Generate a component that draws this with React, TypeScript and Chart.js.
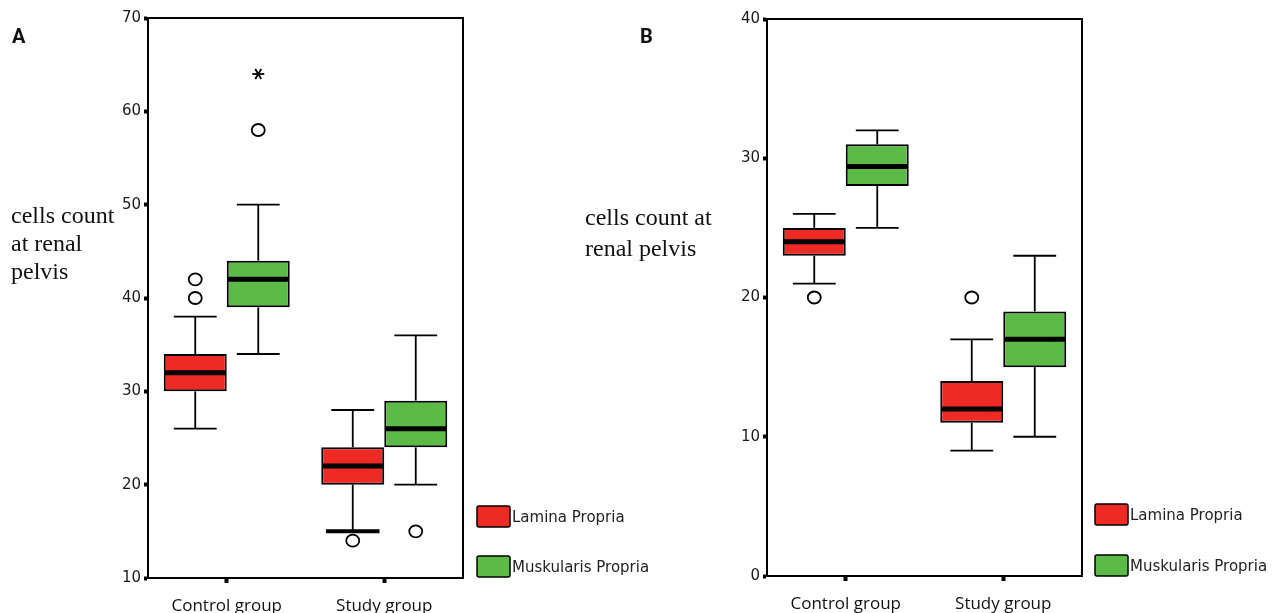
import React, { useEffect, useRef } from "react";
import { Chart, registerables } from "chart.js";
Chart.register(...registerables);

// ---------- data ----------
const groups = ["Control group", "Study group"];
const seriesNames = ["Lamina Propria", "Muskularis Propria"];
const yTitleA = ["cells count", "at renal", "pelvis"];
const yTitleB = ["cells count at", "renal pelvis"];
const yTicksA = [10, 20, 30, 40, 50, 60, 70];
const yTicksB = [0, 10, 20, 30, 40];

// Panel A – Lamina Propria
const laminaA_low = [26, 15];
const laminaA_q1 = [30, 20];
const laminaA_med = [32, 22];
const laminaA_q3 = [34, 24];
const laminaA_high = [38, 28];
const laminaA_outliers = [[40, 42], [14]];
const laminaA_extremes: number[][] = [[], []];
// Panel A – Muskularis Propria
const muskA_low = [34, 20];
const muskA_q1 = [39, 24];
const muskA_med = [42, 26];
const muskA_q3 = [44, 29];
const muskA_high = [50, 36];
const muskA_outliers = [[58], [15]];
const muskA_extremes = [[64], []];

// Panel B – Lamina Propria
const laminaB_low = [21, 9];
const laminaB_q1 = [23, 11];
const laminaB_med = [24, 12];
const laminaB_q3 = [25, 14];
const laminaB_high = [26, 17];
const laminaB_outliers = [[20], [20]];
const laminaB_extremes: number[][] = [[], []];
// Panel B – Muskularis Propria
const muskB_low = [25, 10];
const muskB_q1 = [28, 15];
const muskB_med = [29.4, 17];
const muskB_q3 = [31, 19];
const muskB_high = [32, 23];
const muskB_outliers: number[][] = [[], []];
const muskB_extremes: number[][] = [[], []];

// ---------- styles ----------
const RED = "#ee2a25";
const GREEN = "#5cba47";
const W = 1284;
const H = 613;

const line = (ctx: CanvasRenderingContext2D, x1: number, y1: number, x2: number, y2: number) => {
  ctx.beginPath();
  ctx.moveTo(x1, y1);
  ctx.lineTo(x2, y2);
  ctx.stroke();
};

const boxPlotPlugin = {
  id: "boxplot",
  afterDatasetsDraw(chart: any, _args: any, opts: any) {
    const ctx: CanvasRenderingContext2D = chart.ctx;
    const ys = chart.scales.y;
    chart.data.datasets.forEach((ds: any, di: number) => {
      const meta = chart.getDatasetMeta(di);
      const st = ds.stats;
      meta.data.forEach((el: any, i: number) => {
        const { x, width } = el.getProps(["x", "width"], true);
        const half = width / 2;
        const cap = width * 0.34;
        const yq1 = ys.getPixelForValue(st.q1[i]);
        const yq3 = ys.getPixelForValue(st.q3[i]);
        const ymed = ys.getPixelForValue(st.med[i]);
        const ylo = ys.getPixelForValue(st.low[i]);
        const yhi = ys.getPixelForValue(st.high[i]);
        ctx.save();
        ctx.strokeStyle = "#000";
        ctx.lineWidth = 1.8;
        line(ctx, x, yq3, x, yhi);
        line(ctx, x - cap, yhi, x + cap, yhi);
        line(ctx, x, yq1, x, ylo);
        const bold = opts.boldLowCap && opts.boldLowCap[di] && opts.boldLowCap[di][i];
        if (bold) {
          ctx.lineWidth = 4;
          line(ctx, x - cap * 1.25, ylo, x + cap * 1.25, ylo);
          ctx.lineWidth = 1.8;
        } else {
          line(ctx, x - cap, ylo, x + cap, ylo);
        }
        ctx.lineWidth = 5;
        line(ctx, x - half + 1, ymed, x + half - 1, ymed);
        // outliers
        ctx.lineWidth = 1.8;
        (st.outliers[i] || []).forEach((v: number) => {
          const yy = ys.getPixelForValue(v);
          ctx.beginPath();
          ctx.ellipse(x, yy, 6.5, 6, 0, 0, Math.PI * 2);
          ctx.fillStyle = "#fff";
          ctx.fill();
          ctx.stroke();
        });
        (st.extremes[i] || []).forEach((v: number) => {
          const yy = ys.getPixelForValue(v);
          line(ctx, x - 6, yy, x + 6, yy);
          line(ctx, x - 3, yy - 5, x + 3, yy + 5);
          line(ctx, x + 3, yy - 5, x - 3, yy + 5);
        });
        ctx.restore();
      });
    });
  },
  afterDraw(chart: any, _args: any, opts: any) {
    const ctx: CanvasRenderingContext2D = chart.ctx;
    const a = chart.chartArea;
    ctx.save();
    // frame
    ctx.strokeStyle = "#000";
    ctx.lineWidth = 2;
    ctx.strokeRect(a.left, a.top, a.right - a.left, a.bottom - a.top);
    // panel letter
    ctx.fillStyle = "#111";
    ctx.font = 'bold 20px "Liberation Sans Narrow", "Roboto", sans-serif';
    ctx.textBaseline = "alphabetic";
    ctx.textAlign = "left";
    ctx.fillText(opts.letter, opts.letterX, opts.letterY);
    // horizontal y title
    ctx.font = '24px "Liberation Serif", serif';
    ctx.fillStyle = "#111";
    opts.title.forEach((t: string, k: number) => {
      ctx.fillText(t, opts.titleX, opts.titleY + k * opts.titleGap);
    });
    // legend
    ctx.font = '15px "DejaVu Sans", sans-serif';
    ctx.textBaseline = "middle";
    chart.data.datasets.forEach((ds: any, k: number) => {
      const ly = opts.legendY + k * opts.legendGap;
      ctx.fillStyle = ds.backgroundColor;
      ctx.beginPath();
      ctx.roundRect(opts.legendX, ly, 33, 21, 2);
      ctx.fill();
      ctx.lineWidth = 1.5;
      ctx.strokeStyle = "#000";
      ctx.stroke();
      ctx.fillStyle = "#222";
      ctx.fillText(ds.label, opts.legendX + 35, ly + 12);
    });
    ctx.restore();
  },
};

type Stats = {
  low: number[]; q1: number[]; med: number[]; q3: number[]; high: number[];
  outliers: number[][]; extremes: number[][];
};

type PanelCfg = {
  lamina: Stats;
  musk: Stats;
  yMin: number;
  yMax: number;
  yTicks: number[];
  left: number;
  right: number;
  top: number;
  bottom: number;
  plugin: any;
};

const panelA: PanelCfg = {
  lamina: { low: laminaA_low, q1: laminaA_q1, med: laminaA_med, q3: laminaA_q3, high: laminaA_high, outliers: laminaA_outliers, extremes: laminaA_extremes },
  musk: { low: muskA_low, q1: muskA_q1, med: muskA_med, q3: muskA_q3, high: muskA_high, outliers: muskA_outliers, extremes: muskA_extremes },
  yMin: 10,
  yMax: 70,
  yTicks: yTicksA,
  left: 148,
  right: 463,
  top: 18,
  bottom: 578,
  plugin: {
    letter: "A", letterX: 12, letterY: 43,
    title: yTitleA, titleX: 11, titleY: 223, titleGap: 28,
    legendX: 477, legendY: 506, legendGap: 50,
    boldLowCap: [[false, true], [false, false]],
  },
};

const panelB: PanelCfg = {
  lamina: { low: laminaB_low, q1: laminaB_q1, med: laminaB_med, q3: laminaB_q3, high: laminaB_high, outliers: laminaB_outliers, extremes: laminaB_extremes },
  musk: { low: muskB_low, q1: muskB_q1, med: muskB_med, q3: muskB_q3, high: muskB_high, outliers: muskB_outliers, extremes: muskB_extremes },
  yMin: 0,
  yMax: 40,
  yTicks: yTicksB,
  left: 767,
  right: 1082,
  top: 19,
  bottom: 576,
  plugin: {
    letter: "B", letterX: 640, letterY: 43,
    title: yTitleB, titleX: 585, titleY: 225, titleGap: 31,
    legendX: 1095, legendY: 504, legendGap: 51,
    boldLowCap: [[false, false], [false, false]],
  },
};

const Y_AXIS_W = 40;

function makeConfig(p: PanelCfg): any {
  return {
    type: "bar",
    data: {
      labels: groups,
      datasets: [
        {
          label: seriesNames[0],
          data: p.lamina.q1.map((v, i) => [v, p.lamina.q3[i]]),
          backgroundColor: RED,
          borderColor: "#000",
          borderWidth: 2,
          borderSkipped: false,
          categoryPercentage: 0.8,
          barPercentage: 1,
          stats: p.lamina,
        },
        {
          label: seriesNames[1],
          data: p.musk.q1.map((v, i) => [v, p.musk.q3[i]]),
          backgroundColor: GREEN,
          borderColor: "#000",
          borderWidth: 2,
          borderSkipped: false,
          categoryPercentage: 0.8,
          barPercentage: 1,
          stats: p.musk,
        },
      ],
    },
    options: {
      responsive: false,
      animation: false,
      layout: {
        padding: { left: p.left - Y_AXIS_W, right: W - p.right, top: p.top, bottom: 0 },
      },
      plugins: {
        legend: { display: false },
        tooltip: { enabled: false },
        boxplot: p.plugin,
      },
      scales: {
        x: {
          type: "category",
          offset: true,
          afterFit: (s: any) => { s.height = H - p.bottom; },
          grid: {
            display: true,
            offset: false,
            drawOnChartArea: false,
            drawTicks: true,
            tickLength: 5,
            tickWidth: 4,
            tickColor: "#000",
          },
          border: { display: true, color: "#000", width: 2 },
          ticks: {
            color: "#111",
            padding: 13,
            maxRotation: 0,
            font: { family: '"Open Sans", sans-serif', size: 17 },
          },
        },
        y: {
          min: p.yMin,
          max: p.yMax,
          afterFit: (s: any) => { s.width = Y_AXIS_W; },
          afterBuildTicks: (s: any) => { s.ticks = p.yTicks.map((v) => ({ value: v })); },
          grid: {
            display: true,
            drawOnChartArea: false,
            drawTicks: true,
            tickLength: 4,
            tickWidth: 4,
            tickColor: "#000",
          },
          border: { display: true, color: "#000", width: 2 },
          ticks: {
            color: "#1a1a1a",
            padding: 3,
            font: { family: '"DejaVu Sans", sans-serif', size: 15 },
          },
        },
      },
    },
    plugins: [boxPlotPlugin],
  };
}

function Panel({ cfg }: { cfg: PanelCfg }) {
  const ref = useRef<HTMLCanvasElement | null>(null);
  useEffect(() => {
    if (!ref.current) return;
    const chart = new Chart(ref.current, makeConfig(cfg));
    return () => chart.destroy();
  }, [cfg]);
  return (
    <canvas
      ref={ref}
      width={W}
      height={H}
      style={{ position: "absolute", left: 0, top: 0, width: W, height: H }}
    />
  );
}

export default function App() {
  return (
    <div style={{ position: "fixed", left: 0, top: 0, width: W, height: H, background: "#fff", overflow: "hidden" }}>
      <Panel cfg={panelA} />
      <Panel cfg={panelB} />
    </div>
  );
}
